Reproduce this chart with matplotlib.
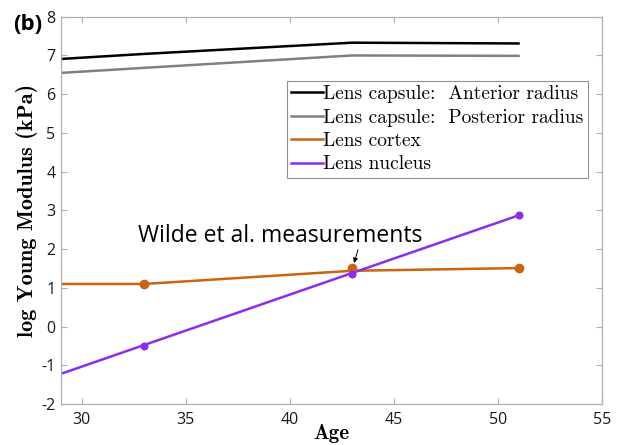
import matplotlib.pyplot as plt

plt.rcParams['font.family'] = ['Open Sans', 'DejaVu Sans']
plt.rcParams['axes.unicode_minus'] = False

# model curves
age_model = [29, 33, 43, 51]
anterior = [6.91, 7.04, 7.33, 7.31]
posterior = [6.55, 6.68, 7.00, 6.99]
cortex = [1.10, 1.10, 1.44, 1.51]
nucleus_age = [29, 51]
nucleus = [-1.22, 2.87]

# Wilde et al. measurements
age_meas = [33, 43, 51]
cortex_meas = [1.10, 1.52, 1.51]
nucleus_meas = [-0.49, 1.37, 2.87]

labels = ['Lens capsule:  Anterior radius', 'Lens capsule:  Posterior radius',
          'Lens cortex', 'Lens nucleus']

c_orange = '#cc6310'
c_purple = '#8b2cf0'

fig = plt.figure(figsize=(6.18, 4.45), dpi=100)
ax = fig.add_axes([0.0987, 0.0921, 0.8749, 0.8703])

ax.plot(age_model, anterior, color='black', lw=1.8, label=labels[0])
ax.plot(age_model, posterior, color='#808080', lw=1.8, label=labels[1])
ax.plot(age_model, cortex, color=c_orange, lw=1.8, label=labels[2])
ax.plot(nucleus_age, nucleus, color=c_purple, lw=1.8, label=labels[3])
ax.plot(age_meas, cortex_meas, 'o', color=c_orange, ms=6)
ax.plot(age_meas, nucleus_meas, 'o', color=c_purple, ms=4.8)

ax.text(32.7, 2.18, 'Wilde et al. measurements', fontsize=16.5, va='baseline')
ax.annotate('', xy=(43.09, 1.64), xytext=(43.28, 1.98),
            arrowprops=dict(arrowstyle='-|>', color='black', lw=0.7,
                            mutation_scale=7, shrinkA=0, shrinkB=0))

ax.set_xlim(29, 55)
ax.set_ylim(-2, 8)
ax.set_xticks([30, 35, 40, 45, 50, 55])
ax.set_yticks(range(-2, 9))
ax.tick_params(direction='in', top=True, right=True, labelsize=11.5,
               colors='#b0b0b0', labelcolor='#1a1a1a', length=4, width=0.8)
ax.tick_params(axis='x', pad=6)
ax.tick_params(axis='y', pad=4)
for s in ax.spines.values():
    s.set_color('#b0b0b0')
    s.set_linewidth(0.9)

ax.set_xlabel('Age', fontsize=15, family='cmb10', labelpad=-3)
ax.set_ylabel('log Young Modulus (kPa)', fontsize=16, family='cmb10', labelpad=2)

leg = ax.legend(loc='upper right', bbox_to_anchor=(0.9747, 0.834),
                prop={'family': 'cmr10', 'size': 14},
                handlelength=1.6, handletextpad=0.05, labelspacing=0.28,
                borderpad=0.22, fancybox=False, framealpha=1, borderaxespad=0)
leg.get_frame().set_edgecolor('#909090')
leg.get_frame().set_linewidth(0.8)

fig.text(0.021, 0.968, '(b)', fontsize=16, fontweight='bold', va='top')

fig.savefig('out.png', dpi=100)
